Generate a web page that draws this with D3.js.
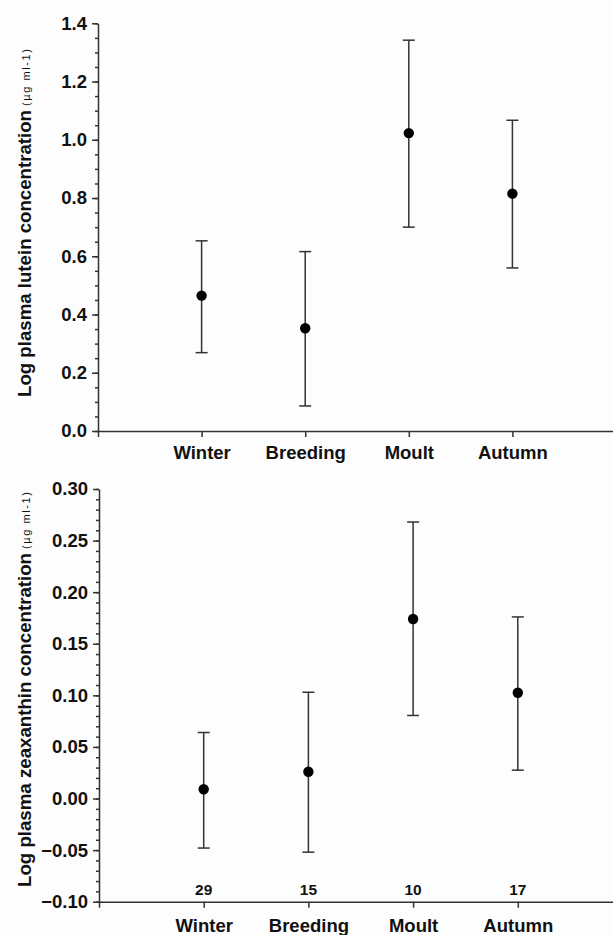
<!DOCTYPE html>
<html>
<head>
  <meta charset="UTF-8" />
  <title>Plasma lutein and zeaxanthin by season</title>
  <script src="https://d3js.org/d3.v7.min.js"></script>
  <style>
    body { margin: 0; background: #fdfdfd; }
    svg { display: block; background: #fdfdfd; }
    text { font-family: "Liberation Sans", Arial, sans-serif; font-weight: bold; fill: #111; }
    .domain, .tick line { stroke: #333; stroke-width: 1.5px; }
    .bar { stroke: #333; stroke-width: 1.5px; fill: none; }
    .dot { fill: #000; }
  </style>
</head>
<body>
  <svg id="chart" width="613" height="935"></svg>
  <script>
    // seasons along the x axis (positions 1..4, 0 is the origin)
    const seasons = ["Winter", "Breeding", "Moult", "Autumn"];
    const sampleSizes = [29, 15, 10, 17];

    // lutein (top panel)
    const luteinMean  = [0.465, 0.353, 1.023, 0.815];
    const luteinUpper = [0.653, 0.616, 1.342, 1.067];
    const luteinLower = [0.269, 0.086, 0.700, 0.560];
    const luteinTicks = [0.0, 0.2, 0.4, 0.6, 0.8, 1.0, 1.2, 1.4];

    // zeaxanthin (bottom panel)
    const zeaMean  = [0.009, 0.026, 0.174, 0.1025];
    const zeaUpper = [0.064, 0.103, 0.268, 0.176];
    const zeaLower = [-0.048, -0.052, 0.0805, 0.0275];
    const zeaTicks = [-0.10, -0.05, 0.00, 0.05, 0.10, 0.15, 0.20, 0.25, 0.30];

    const svg = d3.select("#chart");

    function drawPanel(opts) {
      const g = svg.append("g");
      const x = d3.scaleLinear().domain([0, 5]).range(opts.xRange);
      const y = d3.scaleLinear().domain(opts.yDomain).range(opts.yRange);

      // minor ticks on y
      const minors = d3.range(opts.yDomain[0], opts.yDomain[1] + opts.minorStep / 2, opts.minorStep);
      g.append("g")
        .attr("transform", `translate(${opts.xRange[0]},0)`)
        .call(d3.axisLeft(y).tickValues(minors).tickSize(3).tickFormat(""))
        .call(a => a.select(".domain").remove());

      // major y axis
      g.append("g")
        .attr("transform", `translate(${opts.xRange[0]},0)`)
        .call(d3.axisLeft(y).tickValues(opts.ticks).tickSize(6).tickPadding(5)
          .tickSizeOuter(0).tickFormat(d3.format(opts.fmt)))
        .call(a => a.selectAll("text").style("font-size", "18.5px"));

      // x axis
      g.append("g")
        .attr("transform", `translate(0,${opts.yRange[0]})`)
        .call(d3.axisBottom(x).tickValues([0, 1, 2, 3, 4]).tickSize(6).tickPadding(opts.xPad)
          .tickSizeOuter(0).tickFormat(i => i === 0 ? "" : seasons[i - 1]))
        .call(a => a.selectAll("text").style("font-size", "18.5px"));

      const rows = seasons.map((s, i) => ({
        pos: i + 1, mean: opts.mean[i], hi: opts.upper[i], lo: opts.lower[i], n: sampleSizes[i]
      }));

      const bars = g.append("g").selectAll("g").data(rows).join("g");
      bars.append("line").attr("class", "bar")
        .attr("x1", d => x(d.pos)).attr("x2", d => x(d.pos))
        .attr("y1", d => y(d.hi)).attr("y2", d => y(d.lo));
      bars.append("line").attr("class", "bar")
        .attr("x1", d => x(d.pos) - 6).attr("x2", d => x(d.pos) + 6)
        .attr("y1", d => y(d.hi)).attr("y2", d => y(d.hi));
      bars.append("line").attr("class", "bar")
        .attr("x1", d => x(d.pos) - 6).attr("x2", d => x(d.pos) + 6)
        .attr("y1", d => y(d.lo)).attr("y2", d => y(d.lo));
      bars.append("circle").attr("class", "dot")
        .attr("cx", d => x(d.pos)).attr("cy", d => y(d.mean)).attr("r", 5.2);

      if (opts.showN) {
        bars.append("text")
          .attr("x", d => x(d.pos))
          .attr("y", opts.yRange[0] - 6.5)
          .attr("text-anchor", "middle")
          .style("font-size", "15.5px")
          .text(d => d.n);
      }

      // rotated axis title with small unit
      const t = g.append("g")
        .attr("transform", `translate(31,${opts.titleStart}) rotate(-90)`);
      t.append("text")
        .attr("x", 0).attr("y", 0)
        .style("font-size", "18.6px")
        .attr("textLength", opts.titleLen)
        .attr("lengthAdjust", "spacingAndGlyphs")
        .text(opts.title);
      t.append("text")
        .attr("x", opts.titleLen + 4).attr("y", -1)
        .style("font-size", "11px")
        .style("font-weight", "normal")
        .attr("textLength", 57)
        .attr("lengthAdjust", "spacing")
        .text("(\u00b5g ml-1)");
    }

    drawPanel({
      xRange: [98, 616], yDomain: [0, 1.4], yRange: [431, 23.3],
      ticks: luteinTicks, minorStep: 0.05, fmt: ".1f", xPad: 9,
      mean: luteinMean, upper: luteinUpper, lower: luteinLower, showN: false,
      title: "Log plasma lutein concentration", titleStart: 397, titleLen: 287
    });

    drawPanel({
      xRange: [99, 622.5], yDomain: [-0.10, 0.30], yRange: [901.7, 489],
      ticks: zeaTicks, minorStep: 0.01, fmt: ".2f", xPad: 11,
      mean: zeaMean, upper: zeaUpper, lower: zeaLower, showN: true,
      title: "Log plasma zeaxanthin concentration", titleStart: 887, titleLen: 334
    });
  </script>
</body>
</html>
